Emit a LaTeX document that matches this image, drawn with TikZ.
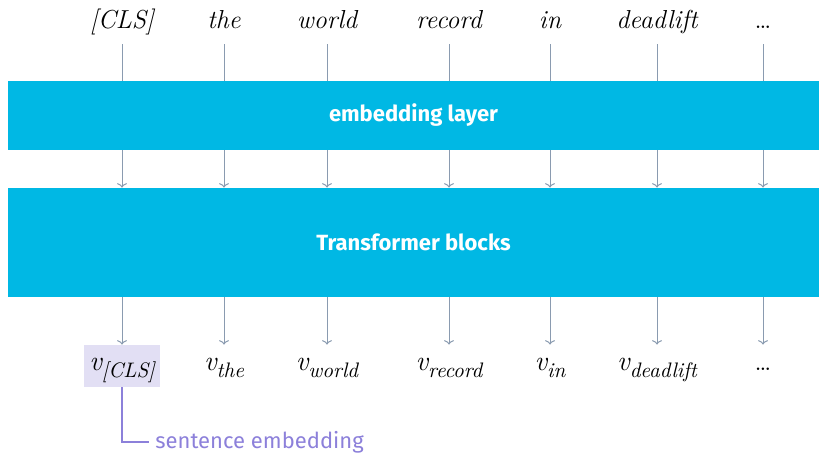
\documentclass[tikz,border=0pt]{standalone}
\usepackage{fontspec}
\setsansfont{Fira Sans}
\definecolor{barblue}{HTML}{00B8E4}
\definecolor{linegray}{HTML}{8A9BB0}
\definecolor{lavender}{HTML}{E2DFF4}
\definecolor{violet}{HTML}{8C80DA}
\usetikzlibrary{arrows.meta,positioning,calc}
\newcommand\vsub[1]{{\itshape v}\raisebox{-3.4pt}{\fontsize{10.5}{12}\selectfont\itshape #1}}
\tikzset{
  tok/.style={font=\fontsize{13}{15}\selectfont\itshape,text height=9pt,text depth=7.5pt,
              inner sep=0pt,anchor=base},
  vec/.style={font=\fontsize{14}{16}\selectfont,text height=9pt,text depth=4pt,
              minimum height=21pt,inner sep=2pt},
  bar/.style={fill=barblue,draw=none,text=white,font=\sffamily\bfseries\fontsize{11}{13}\selectfont,
              minimum width=405.5pt,inner sep=0pt},
  ln/.style={linegray,line width=0.5pt},
  arr/.style={ln,-{To[length=2.2pt,width=5pt]}}
}
\begin{document}
\begin{tikzpicture}[x=0.5pt,y=-0.5pt]
    \useasboundingbox (0,0) rectangle (819,453);
    % input tokens
    \node[tok] (tcls) at (122,29) {[CLS]};
    \node[tok] (tthe) at (224,29) {the};
    \node[tok] (twor) at (327,29) {world};
    \node[tok] (trec) at (449,29) {record};
    \node[tok] (tin)  at (550,29) {in};
    \node[tok] (tdea) at (657,29) {deadlift};
    \node[tok,font=\fontsize{13}{15}\selectfont] (tdot) at (763,29) {\dots};
    % layers
    \node[bar,minimum height=34.5pt] (emb) at (413.5,115.5) {embedding layer};
    \node[bar,minimum height=54.5pt] (tb)  at (413.5,242.5) {Transformer blocks};
    % output vectors
    \node[vec,fill=lavender,minimum width=38pt] (vcls) at (122,366) {\vsub{[CLS]}};
    \node[vec] (vthe) at (224,366) {\vsub{the}};
    \node[vec] (vwor) at (327,366) {\vsub{world}};
    \node[vec] (vrec) at (449,366) {\vsub{record}};
    \node[vec] (vin)  at (550,366) {\vsub{in}};
    \node[vec] (vdea) at (657,366) {\vsub{deadlift}};
    \node[vec,font=\fontsize{13}{15}\selectfont] (vdot) at (763,366) {\dots};
    \node[font=\sffamily\fontsize{11}{13}\selectfont,text=violet,anchor=west,inner sep=0pt]
          (sent) at (155,442) {sentence embedding};
    % connectors
    \draw[ln] (tcls) -- (tcls |- emb.north);
    \draw[ln] (tthe) -- (tthe |- emb.north);
    \draw[ln] (twor) -- (twor |- emb.north);
    \draw[ln] (trec) -- (trec |- emb.north);
    \draw[ln] (tin)  -- (tin  |- emb.north);
    \draw[ln] (tdea) -- (tdea |- emb.north);
    \draw[ln] (tdot) -- (tdot |- emb.north);
    \draw[arr] (tcls |- emb.south) -- (tcls |- tb.north);
    \draw[arr] (tthe |- emb.south) -- (tthe |- tb.north);
    \draw[arr] (twor |- emb.south) -- (twor |- tb.north);
    \draw[arr] (trec |- emb.south) -- (trec |- tb.north);
    \draw[arr] (tin  |- emb.south) -- (tin  |- tb.north);
    \draw[arr] (tdea |- emb.south) -- (tdea |- tb.north);
    \draw[arr] (tdot |- emb.south) -- (tdot |- tb.north);
    \draw[arr] (vcls |- tb.south) -- (vcls);
    \draw[arr] (vthe |- tb.south) -- (vthe);
    \draw[arr] (vwor |- tb.south) -- (vwor);
    \draw[arr] (vrec |- tb.south) -- (vrec);
    \draw[arr] (vin  |- tb.south) -- (vin);
    \draw[arr] (vdea |- tb.south) -- (vdea);
    \draw[arr] (vdot |- tb.south) -- (vdot);
    \draw[violet,line width=0.6pt] (vcls.south) |- ([xshift=-3pt]sent.west);
\end{tikzpicture}
\end{document}
